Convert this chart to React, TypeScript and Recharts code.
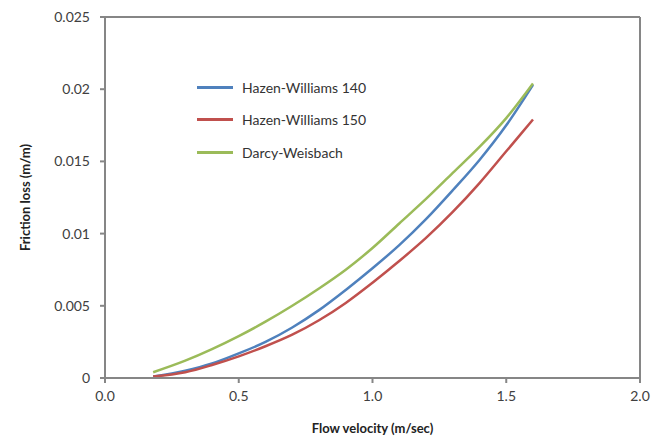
import React from "react";
import {
  LineChart,
  Line,
  XAxis,
  YAxis,
  ReferenceLine,
  Label,
} from "recharts";

// flow velocity (m/sec)
const velocity = [0.18, 0.3, 0.4, 0.5, 0.6, 0.7, 0.8, 0.9, 1.0, 1.1, 1.2, 1.3, 1.4, 1.5, 1.6];
// friction loss (m/m)
const hazen140 = [0.0001, 0.0005, 0.001, 0.0017, 0.0025, 0.0035, 0.0047, 0.0061, 0.0076, 0.0092, 0.011, 0.013, 0.0151, 0.0175, 0.0203];
const hazen150 = [0.0001, 0.0004, 0.0009, 0.0015, 0.0022, 0.003, 0.004, 0.0052, 0.0066, 0.0081, 0.0097, 0.0115, 0.0135, 0.0157, 0.0179];
const darcy = [0.0004, 0.0012, 0.002, 0.0029, 0.0039, 0.005, 0.0062, 0.0075, 0.009, 0.0107, 0.0124, 0.0142, 0.016, 0.018, 0.0204];

const xTicks = [0, 0.5, 1, 1.5, 2];
const yTicks = [0, 0.005, 0.01, 0.015, 0.02, 0.025];

const series = [
  { key: "hw140", name: "Hazen-Williams 140", color: "#4F81BD" },
  { key: "hw150", name: "Hazen-Williams 150", color: "#C0504D" },
  { key: "dw", name: "Darcy-Weisbach", color: "#9BBB59" },
];

const data = velocity.map((v, i) => ({
  v,
  hw140: hazen140[i],
  hw150: hazen150[i],
  dw: darcy[i],
}));

const axisColor = "#868686";
const font = "Lato, 'Open Sans', sans-serif";

// legend sits inside the plot area, so it is drawn as an overlay
const LegendBox = () => (
  <div
    style={{
      position: "absolute",
      left: 189,
      top: 63,
      fontFamily: font,
      fontSize: 14,
      color: "#333",
    }}
  >
    {series.map((s) => (
      <div key={s.key} style={{ display: "flex", alignItems: "center", height: 32.5 }}>
        <span style={{ display: "inline-block", width: 36, height: 3, background: s.color, marginRight: 9 }} />
        <span>{s.name}</span>
      </div>
    ))}
  </div>
);

export default function App() {
  return (
    <div style={{ position: "relative", width: 645, height: 430, fontFamily: font }}>
      <LineChart
        width={645}
        height={430}
        data={data}
        margin={{ top: 9, right: 13, left: 37, bottom: 0 }}
      >
        <XAxis
          type="number"
          dataKey="v"
          domain={[0, 2]}
          ticks={xTicks}
          tickFormatter={(v: number) => v.toFixed(1)}
          stroke={axisColor}
          strokeWidth={2}
          tickSize={5}
          tickMargin={8}
          tick={{ fill: "#404040", fontSize: 14, fontFamily: font }}
          height={60}
        >
          <Label
            value="Flow velocity (m/sec)"
            position="insideBottom"
            offset={5}
            style={{ fill: "#222", fontSize: 13, fontWeight: "bold", fontFamily: font }}
          />
        </XAxis>
        <YAxis
          type="number"
          domain={[0, 0.025]}
          ticks={yTicks}
          stroke={axisColor}
          strokeWidth={2}
          tickSize={5}
          tickMargin={10}
          tick={{ fill: "#404040", fontSize: 14, fontFamily: font }}
          width={60}
        >
          <Label
            value="Friction loss (m/m)"
            angle={-90}
            position="left"
            offset={20}
            style={{ fill: "#222", fontSize: 13, fontWeight: "bold", fontFamily: font, textAnchor: "middle" }}
          />
        </YAxis>
        <ReferenceLine y={0.025} stroke={axisColor} strokeWidth={2} />
        <ReferenceLine x={2} stroke={axisColor} strokeWidth={2} />
        {series.map((s) => (
          <Line
            key={s.key}
            type="monotone"
            dataKey={s.key}
            name={s.name}
            stroke={s.color}
            strokeWidth={2.5}
            dot={false}
            isAnimationActive={false}
          />
        ))}
      </LineChart>
      <LegendBox />
    </div>
  );
}
